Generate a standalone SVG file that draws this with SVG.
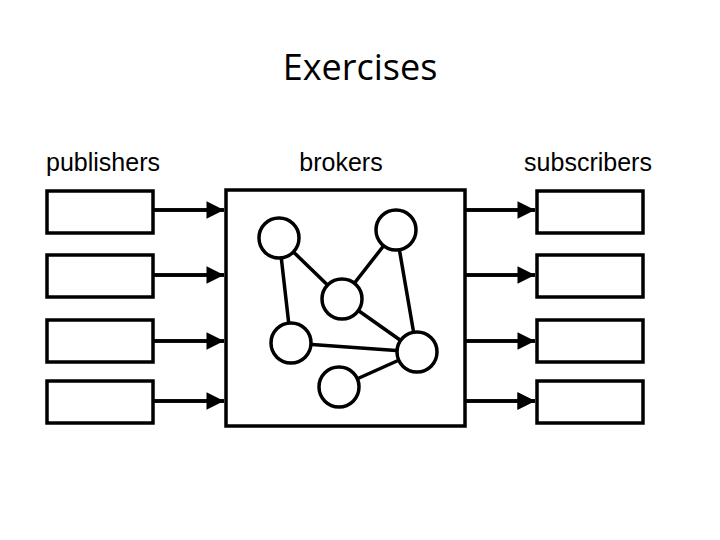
<svg xmlns="http://www.w3.org/2000/svg" width="720" height="540" viewBox="0 0 720 540">
<style>
.b{fill:#fff;stroke:#000;stroke-width:3.5}
.l{stroke:#000;stroke-width:3.5;fill:none}
.t{font-family:"Liberation Sans",Arial,sans-serif;font-size:25px;text-anchor:middle;fill:#000}
</style>
<defs><marker id="a" viewBox="0 0 10 10" refX="10" refY="5" markerWidth="7" markerHeight="5" markerUnits="strokeWidth" orient="auto"><path d="M0,0L10,5L0,10z" fill="#000"/></marker></defs>
<rect width="720" height="540" fill="#fff"/>
<text x="360" y="80" font-family="Open Sans,sans-serif" font-size="36" text-anchor="middle">Exercises</text>
<g id="labels">
<text class="t" x="103" y="171">publishers</text>
<text class="t" x="341" y="171">brokers</text>
<text class="t" x="588" y="171">subscribers</text>
</g>
<g id="publishers">
<rect class="b" x="47" y="191" width="106" height="42"/>
<rect class="b" x="47" y="255" width="106" height="42"/>
<rect class="b" x="47" y="320" width="106" height="42"/>
<rect class="b" x="47" y="381" width="106" height="42"/>
</g>
<g id="subscribers">
<rect class="b" x="537" y="191" width="106" height="42"/>
<rect class="b" x="537" y="255" width="106" height="42"/>
<rect class="b" x="537" y="320" width="106" height="42"/>
<rect class="b" x="537" y="381" width="106" height="42"/>
</g>
<g id="brokers">
<rect class="b" x="226" y="190" width="239" height="236"/>
</g>
<g id="connectors">
<path class="l" d="M153,210H224M153,275H224M153,341H224M153,401H224M465,210H535M465,275H535M465,341H535M465,401H535" marker-end="url(#a)"/>
<path class="l" d="M153,210H224" marker-end="url(#a)"/><path class="l" d="M153,275H224" marker-end="url(#a)"/><path class="l" d="M153,341H224" marker-end="url(#a)"/><path class="l" d="M153,401H224" marker-end="url(#a)"/>
<path class="l" d="M465,210H535" marker-end="url(#a)"/><path class="l" d="M465,275H535" marker-end="url(#a)"/><path class="l" d="M465,341H535" marker-end="url(#a)"/><path class="l" d="M465,401H535" marker-end="url(#a)"/>
<path class="l" d="M279,238L342,299M279,238L291,343M396,230L342,299M396,230L417,352M342,299L417,352M291,343L417,352M339,387L417,352"/>
</g>
<g id="nodes">
<circle class="b" cx="279" cy="238" r="20"/>
<circle class="b" cx="396" cy="230" r="20"/>
<circle class="b" cx="342" cy="299" r="20"/>
<circle class="b" cx="291" cy="343" r="20"/>
<circle class="b" cx="417" cy="352" r="20"/>
<circle class="b" cx="339" cy="387" r="20"/>
</g>
</svg>
